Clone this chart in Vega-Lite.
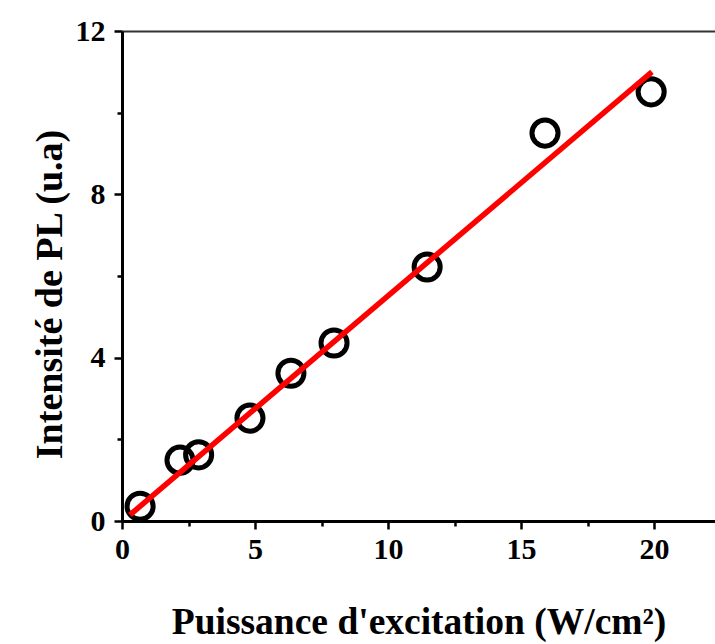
{
  "$schema": "https://vega.github.io/schema/vega-lite/v6.json",
  "width": 593,
  "height": 490,
  "autosize": {"type": "none"},
  "padding": {"left": 122, "top": 31, "right": 0, "bottom": 123},
  "background": "white",
  "config": {"view": {"stroke": null}, "font": "Liberation Serif"},
  "datasets": {
    "pts": [
      {"p": 0.68, "i": 0.36},
      {"p": 2.18, "i": 1.49},
      {"p": 2.88, "i": 1.62},
      {"p": 4.81, "i": 2.52},
      {"p": 6.35, "i": 3.62},
      {"p": 7.97, "i": 4.36},
      {"p": 11.47, "i": 6.22},
      {"p": 15.9, "i": 9.5},
      {"p": 19.89, "i": 10.51}
    ],
    "fit": [
      {"p": 0.3, "i": 0.15},
      {"p": 19.92, "i": 11.0}
    ]
  },
  "layer": [
    {
      "data": {"name": "pts"},
      "mark": {"type": "point", "shape": "circle", "size": 680, "filled": false, "stroke": "black", "strokeWidth": 5, "opacity": 1, "clip": false},
      "encoding": {
        "x": {
          "field": "p", "type": "quantitative",
          "scale": {"domain": [0, 22.29], "nice": false, "zero": false},
          "axis": {
            "orient": "bottom",
            "values": [0, 2.5, 5, 7.5, 10, 12.5, 15, 17.5, 20],
            "labelExpr": "datum.value % 5 === 0 ? datum.label : ''",
            "tickSize": {"condition": {"test": "datum.value % 5 !== 0", "value": 5}, "value": 8},
            "tickWidth": 2.5,
            "tickColor": "black",
            "domainWidth": 3,
            "domainColor": "black",
            "grid": false,
            "labelFont": "Liberation Serif",
            "labelFontWeight": "bold",
            "labelFontSize": 30,
            "labelColor": "black",
            "labelPadding": 5,
            "labelFlush": false,
            "labelOverlap": false,
            "title": "Puissance d'excitation (W/cm²)",
            "titleFont": "Liberation Serif",
            "titleFontWeight": "bold",
            "titleFontSize": 37.5,
            "titleColor": "black",
            "titlePadding": 39
          }
        },
        "y": {
          "field": "i", "type": "quantitative",
          "scale": {"domain": [0, 12], "nice": false, "zero": true},
          "axis": {
            "orient": "left",
            "values": [0, 2, 4, 6, 8, 10, 12],
            "labelExpr": "datum.value % 4 === 0 ? datum.label : ''",
            "tickSize": {"condition": {"test": "datum.value % 4 !== 0", "value": 5}, "value": 8},
            "tickWidth": 2.5,
            "tickColor": "black",
            "domainWidth": 3,
            "domainColor": "black",
            "grid": false,
            "labelFont": "Liberation Serif",
            "labelFontWeight": "bold",
            "labelFontSize": 30,
            "labelColor": "black",
            "labelPadding": 9,
            "labelFlush": false,
            "labelOverlap": false,
            "title": "Intensité de PL (u.a)",
            "titleFont": "Liberation Serif",
            "titleFontWeight": "bold",
            "titleFontSize": 38,
            "titleColor": "black",
            "titlePadding": 6,
            "titleY": 263
          }
        }
      }
    },
    {
      "data": {"name": "fit"},
      "mark": {"type": "line", "color": "#ff0000", "strokeWidth": 5.5, "strokeCap": "butt", "clip": false},
      "encoding": {
        "x": {
          "field": "p", "type": "quantitative",
          "axis": {"orient": "top", "labels": false, "ticks": false, "grid": false, "domainColor": "#333333", "domainWidth": 2, "title": null}
        },
        "y": {"field": "i", "type": "quantitative", "axis": null}
      }
    }
  ],
  "resolve": {"axis": {"x": "independent", "y": "independent"}}
}
